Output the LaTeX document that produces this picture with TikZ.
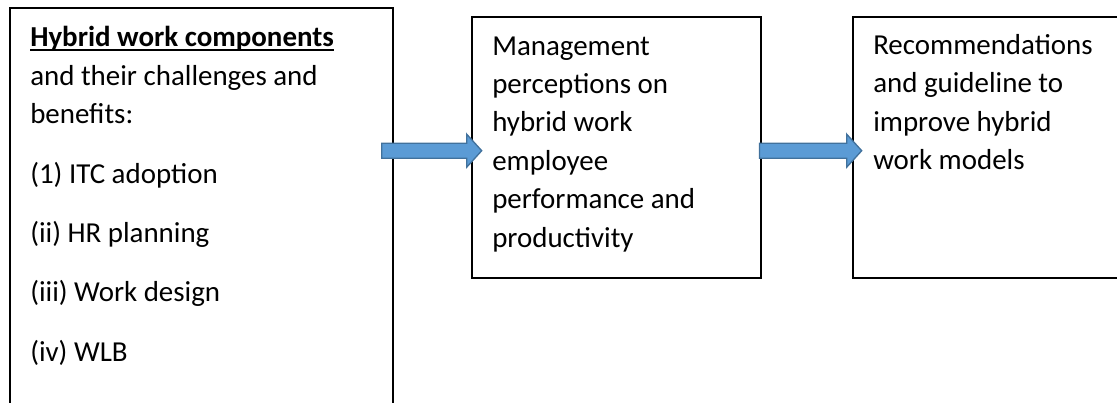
\documentclass[tikz,border=0pt]{standalone}
\usepackage{fontspec}
\setmainfont{Carlito}
\usetikzlibrary{positioning,calc}

\definecolor{arrowfill}{HTML}{5B9BD5}
\definecolor{arrowedge}{HTML}{41719C}

% bold heading with a low underline
\newcommand{\headline}[1]{\setbox0\hbox{\bfseries #1}\rlap{\rule[-3.2pt]{\wd0}{1.3pt}}\box0}
% block arrow between two coordinates
\newcommand{\flowarrow}[2]{%
  \draw[blockarrow] ($(#1)+(0,-7.5)$) -- ($(#2)+(-15,-7.5)$) -- ($(#2)+(-15,-16.5)$)
    -- (#2) -- ($(#2)+(-15,16.5)$) -- ($(#2)+(-15,7.5)$) -- ($(#1)+(0,7.5)$) -- cycle;}

\tikzset{
  frame/.style={draw=black, line width=1.5pt, inner sep=0pt, anchor=north west},
  % base anchor sits on the last line
  txt/.style={anchor=base west, inner sep=0pt, align=left,
    font=\fontsize{21.7pt}{28.8pt}\selectfont},
  blockarrow/.style={fill=arrowfill, draw=arrowedge, line width=1pt, line join=miter}
}

\begin{document}
\begin{tikzpicture}[x=0.75pt,y=-0.75pt]
\useasboundingbox (0,0) rectangle (1117,403);

% the three boxes
\node[frame, minimum width=287.6pt, minimum height=310pt] (comp) at (9,7) {};
\node[frame, minimum width=217.1pt, minimum height=195.8pt] (perc) at (470.5,16) {};
\node[frame, minimum width=208.5pt, minimum height=195.8pt] (reco) at (852,16) {};

% their texts
\node[txt] (comptext) at (30,361) {\headline{Hybrid work components}\\
  and their challenges and\\
  benefits:\\[15.7pt]
  (1) ITC adoption\\[15.7pt]
  (ii) HR planning\\[15.7pt]
  (iii) Work design\\[15.7pt]
  (iv) WLB};
\node[txt] (perctext) at (492,247) {Management\\
  perceptions on\\
  hybrid work\\
  employee\\
  performance and\\
  productivity};
\node[txt] (recotext) at (873,169.5) {Recommendations\\
  and guideline to\\
  improve hybrid\\
  work models};

% arrows
\coordinate (a1) at (381.7,150.7);
\coordinate (a1tip) at (481.7,150.7);
\coordinate (a2) at (759.5,150.7);
\coordinate (a2tip) at (861.7,150.7);
\flowarrow{a1}{a1tip}
\flowarrow{a2}{a2tip}
\end{tikzpicture}
\end{document}
